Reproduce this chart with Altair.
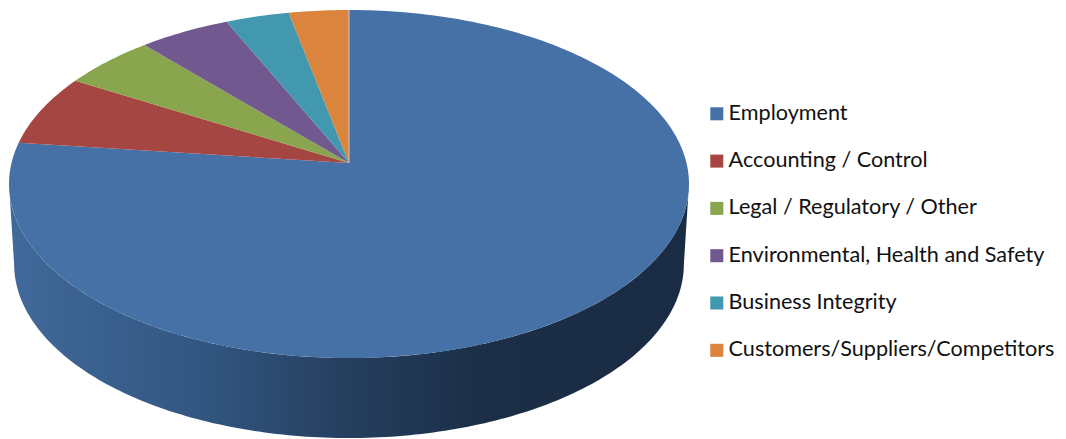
import math
import altair as alt
import pandas as pd

categories = ["Employment", "Accounting / Control", "Legal / Regulatory / Other",
              "Environmental, Health and Safety", "Business Integrity",
              "Customers/Suppliers/Competitors"]
values = [76.9, 6.6, 5.0, 4.9, 3.4, 3.2]
colors = ["#4571A6", "#A64643", "#89A54E", "#71588F", "#4198AF", "#DB843D"]

TILT = 0.1207          # perspective of the tilted disc
DEPTH = 80 / 171.5     # thickness of the disc
SHRINK = 0.985         # far rim narrows a little


def project(deg, dy=0.0, sx=1.0):
    s, c = math.sin(math.radians(deg)), math.cos(math.radians(deg))
    w = 1 + TILT * c
    return sx * s / w, c / w - dy


rows = []
start = 0.0
for cat, val in zip(categories, values):
    sweep = val * 3.6
    n = max(2, int(sweep) + 1)
    rows.append({"cat": cat, "i": 0, "x": 0.0, "y": 0.0})
    for k in range(n + 1):
        px, py = project(start + sweep * k / n)
        rows.append({"cat": cat, "i": k + 1, "x": px, "y": py})
    start += sweep
wedges = pd.DataFrame(rows)

# silhouette of the rim: between the points where the ellipse is widest
edge = math.degrees(math.acos(-TILT))
span = 360 - 2 * edge
side_rows = []
for k in range(0, 181):
    px, py = project(edge + span * k / 180)
    side_rows.append({"i": k, "x": px, "y": py})
for k in range(0, 181):
    px, py = project(360 - edge - span * k / 180, DEPTH, SHRINK)
    side_rows.append({"i": 181 + k, "x": px, "y": py})
side = pd.DataFrame(side_rows)

sx0, sy0 = project(0)
seam = pd.DataFrame({"i": [0, 1], "x": [0.0, sx0], "y": [0.0, sy0]})

W, H = 1050, 431
x_scale = alt.Scale(domain=[-341 / 337.5, (W - 341) / 337.5], nice=False, zero=False)
y_scale = alt.Scale(domain=[(155 - H) / 171.5, 155 / 171.5], nice=False, zero=False)

gradient = alt.Gradient(
    gradient="linear", x1=0, x2=1, y1=0, y2=0,
    stops=[
        alt.GradientStop(offset=0.0, color="#41699A"),
        alt.GradientStop(offset=0.15, color="#395F8D"),
        alt.GradientStop(offset=0.3, color="#31557F"),
        alt.GradientStop(offset=0.5, color="#253E5E"),
        alt.GradientStop(offset=0.7, color="#1B2E46"),
        alt.GradientStop(offset=1.0, color="#1A2C43"),
    ],
)

side_layer = alt.Chart(side).mark_line(fill=gradient, strokeWidth=0).encode(
    x=alt.X("x:Q", scale=x_scale, axis=None),
    y=alt.Y("y:Q", scale=y_scale, axis=None),
    order=alt.Order("i:Q"),
)

wedge_layer = alt.Chart(wedges).mark_line(strokeWidth=0).encode(
    x=alt.X("x:Q", scale=x_scale, axis=None),
    y=alt.Y("y:Q", scale=y_scale, axis=None),
    order=alt.Order("i:Q"),
    fill=alt.Fill(
        "cat:N",
        sort=categories,
        scale=alt.Scale(domain=categories, range=colors),
        legend=alt.Legend(
            title=None, orient="none", legendX=698, legendY=95,
            symbolType="square", symbolSize=170, symbolStrokeWidth=0,
            labelFont="Lato", labelFontSize=21.6, labelColor="#111111",
            labelLimit=400, rowPadding=24.3, labelOffset=1, padding=0,
            symbolOpacity=1,
        ),
    ),
)

seam_layer = alt.Chart(seam).mark_line(stroke="#C4CBD4", strokeWidth=1).encode(
    x=alt.X("x:Q", scale=x_scale, axis=None),
    y=alt.Y("y:Q", scale=y_scale, axis=None),
    order=alt.Order("i:Q"),
)

chart = (side_layer + wedge_layer + seam_layer).properties(
    width=W, height=H, padding=0,
    autosize=alt.AutoSizeParams(type="none"),
).configure_view(stroke=None)

chart.save("out.html", embed_options={"renderer": "svg", "actions": False})
